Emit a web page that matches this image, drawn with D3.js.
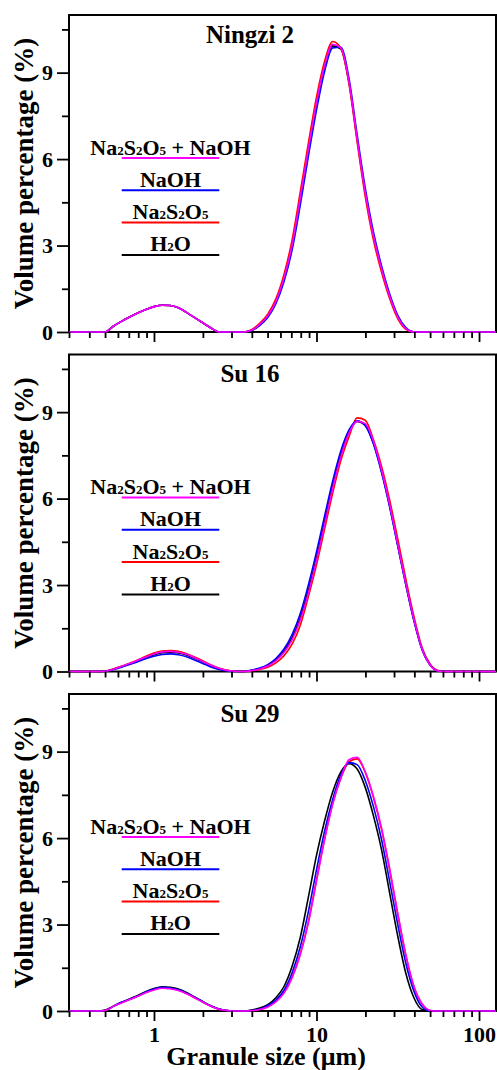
<!DOCTYPE html>
<html>
<head>
<meta charset="utf-8">
<script src="https://cdn.jsdelivr.net/npm/d3@7"></script>
<style>
body { margin: 0; background: #fff; }
</style>
</head>
<body>
<script>
// granule size classes (um), shared by every curve
var sizes = [0.3, 0.447, 0.501, 0.562, 0.631, 0.708, 0.794, 0.891, 1.0, 1.122,
    1.259, 1.413, 1.585, 1.778, 1.995, 2.239, 2.512, 2.818, 3.162, 3.548,
    3.981, 4.467, 5.012, 5.623, 6.31, 7.079, 7.943, 8.913, 10.0, 11.22,
    12.59, 14.13, 15.85, 17.78, 19.95, 22.39, 25.12, 28.18, 31.62, 35.48,
    39.81, 44.67, 50.12, 56.23, 63.1, 127.2];

var panelTitles = ["Ningzi 2", "Su 16", "Su 29"];
var seriesNames = ["H2O", "Na2S2O5", "NaOH", "Na2S2O5 + NaOH"];
var seriesColors = ["#000000", "#ff0000", "#0000ff", "#ff00ff"];

// volume percentage (%) per size class
var ningziH2O = [0, 0, 0, 0.2, 0.37, 0.52, 0.66, 0.78, 0.88, 0.93, 0.92, 0.84, 0.68, 0.5, 0.32, 0.14, 0, 0, 0, 0,
    0.06, 0.25, 0.55, 1.05, 1.85, 3.0, 4.6, 6.3, 7.9, 9.2, 9.93, 9.82, 8.65, 6.7, 4.85, 3.35, 2.2, 1.25, 0.52, 0.12,
    0, 0, 0, 0, 0, 0];
var ningziNa2S2O5 = [0, 0, 0, 0.2, 0.37, 0.52, 0.66, 0.78, 0.88, 0.93, 0.92, 0.84, 0.68, 0.5, 0.32, 0.14, 0, 0, 0, 0,
    0.08, 0.3, 0.62, 1.15, 2.0, 3.2, 4.85, 6.55, 8.15, 9.4, 10.08, 9.85, 8.6, 6.6, 4.7, 3.2, 2.08, 1.16, 0.46, 0.09,
    0, 0, 0, 0, 0, 0];
var ningziNaOH = [0, 0, 0, 0.2, 0.37, 0.52, 0.66, 0.78, 0.88, 0.93, 0.92, 0.84, 0.68, 0.5, 0.32, 0.14, 0, 0, 0, 0,
    0.05, 0.22, 0.5, 0.98, 1.75, 2.85, 4.4, 6.1, 7.7, 9.05, 9.86, 9.88, 8.8, 6.85, 5.0, 3.48, 2.3, 1.33, 0.58, 0.15,
    0, 0, 0, 0, 0, 0];
var ningziMixed = [0, 0, 0, 0.2, 0.37, 0.52, 0.66, 0.78, 0.88, 0.93, 0.92, 0.84, 0.68, 0.5, 0.32, 0.14, 0, 0, 0, 0,
    0.06, 0.26, 0.56, 1.06, 1.87, 3.02, 4.65, 6.35, 7.95, 9.25, 9.98, 9.86, 8.7, 6.72, 4.85, 3.34, 2.2, 1.25, 0.52, 0.12,
    0, 0, 0, 0, 0, 0];

var su16H2O = [0, 0, 0.01, 0.08, 0.17, 0.27, 0.37, 0.48, 0.58, 0.65, 0.67, 0.64, 0.57, 0.46, 0.34, 0.21, 0.1, 0.03, 0.01, 0,
    0.04, 0.1, 0.21, 0.4, 0.7, 1.17, 1.86, 2.82, 3.95, 5.2, 6.45, 7.52, 8.3, 8.68, 8.55, 7.93, 6.95, 5.75, 4.38, 3.02,
    1.77, 0.76, 0.22, 0.02, 0, 0];
var su16Na2S2O5 = [0, 0, 0.01, 0.09, 0.18, 0.29, 0.4, 0.53, 0.64, 0.71, 0.73, 0.7, 0.62, 0.5, 0.37, 0.23, 0.11, 0.04, 0.01, 0,
    0.02, 0.07, 0.15, 0.3, 0.55, 0.95, 1.6, 2.6, 3.7, 4.95, 6.2, 7.33, 8.15, 8.8, 8.72, 8.05, 7.12, 5.95, 4.6, 3.2,
    1.9, 0.82, 0.25, 0.03, 0, 0];
var su16NaOH = [0, 0, 0.01, 0.07, 0.15, 0.24, 0.34, 0.44, 0.53, 0.59, 0.61, 0.58, 0.51, 0.4, 0.28, 0.16, 0.07, 0.02, 0, 0,
    0.05, 0.12, 0.24, 0.45, 0.78, 1.28, 2.0, 3.0, 4.15, 5.4, 6.62, 7.66, 8.38, 8.7, 8.53, 7.9, 6.91, 5.71, 4.35, 3.0,
    1.75, 0.75, 0.22, 0.02, 0, 0];
var su16Mixed = [0, 0, 0.01, 0.08, 0.18, 0.28, 0.39, 0.5, 0.61, 0.68, 0.7, 0.67, 0.6, 0.48, 0.35, 0.22, 0.11, 0.04, 0.01, 0,
    0.03, 0.09, 0.19, 0.37, 0.66, 1.1, 1.78, 2.72, 3.85, 5.1, 6.36, 7.45, 8.27, 8.68, 8.6, 8.0, 7.0, 5.8, 4.42, 3.05,
    1.8, 0.77, 0.22, 0.02, 0, 0];

var su29H2O = [0, 0, 0.03, 0.17, 0.3, 0.42, 0.54, 0.67, 0.78, 0.84, 0.82, 0.76, 0.64, 0.49, 0.33, 0.18, 0.07, 0.02, 0, 0,
    0.03, 0.1, 0.22, 0.46, 0.85, 1.55, 2.55, 3.95, 5.4, 6.6, 7.61, 8.3, 8.58, 8.4, 7.76, 6.78, 5.6, 4.1, 2.6, 1.3,
    0.45, 0.05, 0, 0, 0, 0];
var su29Na2S2O5 = [0, 0, 0.02, 0.16, 0.29, 0.4, 0.51, 0.64, 0.74, 0.8, 0.78, 0.72, 0.61, 0.46, 0.31, 0.17, 0.06, 0.02, 0, 0,
    0.01, 0.05, 0.15, 0.33, 0.64, 1.18, 1.98, 3.1, 4.55, 5.98, 7.2, 8.08, 8.65, 8.75, 8.28, 7.42, 6.3, 4.9, 3.35, 1.92,
    0.83, 0.24, 0.02, 0, 0, 0];
var su29NaOH = [0, 0, 0.02, 0.16, 0.3, 0.41, 0.52, 0.66, 0.76, 0.82, 0.8, 0.74, 0.62, 0.48, 0.32, 0.17, 0.07, 0.02, 0, 0,
    0.02, 0.07, 0.18, 0.38, 0.72, 1.33, 2.22, 3.45, 4.9, 6.25, 7.35, 8.2, 8.62, 8.55, 8.0, 7.1, 5.95, 4.5, 3.0, 1.65,
    0.68, 0.14, 0, 0, 0, 0];
var su29Mixed = [0, 0, 0.02, 0.16, 0.28, 0.4, 0.51, 0.63, 0.73, 0.79, 0.77, 0.71, 0.6, 0.46, 0.31, 0.17, 0.06, 0.02, 0, 0,
    0.01, 0.05, 0.14, 0.32, 0.62, 1.15, 1.95, 3.05, 4.5, 5.95, 7.2, 8.1, 8.72, 8.8, 8.3, 7.45, 6.35, 4.95, 3.4, 1.95,
    0.85, 0.25, 0.02, 0, 0, 0];

// one list of series per panel, same order as seriesNames
var panelSeries = [
    [ningziH2O, ningziNa2S2O5, ningziNaOH, ningziMixed],
    [su16H2O, su16Na2S2O5, su16NaOH, su16Mixed],
    [su29H2O, su29Na2S2O5, su29NaOH, su29Mixed]
];

// tick values
var yTicks = [0, 3, 6, 9];
var yMinorTicks = [1.5, 4.5, 7.5, 10.5];
var xTicks = [1, 10, 100];
var xMinorTicks = [0.3, 0.4, 0.5, 0.6, 0.7, 0.8, 0.9, 2, 3, 4, 5, 6, 7, 8, 9,
    20, 30, 40, 50, 60, 70, 80, 90];

// layout
var width = 497, height = 1070;
var left = 69, right = 496;
var panelH = 317, panelStep = 339.5, firstTop = 15;
var serif = '"Liberation Serif", "Times New Roman", serif';

var svg = d3.select('body')
    .append('svg')
    .attr('width', width)
    .attr('height', height);

// log x scale shared by all panels
var x = d3.scaleLog()
    .domain([0.3, 127.2])
    .range([left, right]);

// bold serif text
function txt(sel, size) {
    return sel.style('font-family', serif)
        .style('font-weight', 'bold')
        .style('font-size', size + 'px')
        .attr('fill', '#000');
}

// put digits of a formula in small type
function formula(sel, label) {
    label.split(/(\d)/).filter(function(s) { return s.length; }).forEach(function(part) {
        var t = sel.append('tspan').text(part);
        if (/\d/.test(part)) t.style('font-size', '13px');
    });
}

function styleAxis(g) {
    g.select('.domain').remove();
    g.selectAll('.tick line').attr('stroke', '#000').attr('stroke-width', 1.8);
    txt(g.selectAll('.tick text'), 22);
}

panelTitles.forEach(function(title, i) {
    var top = firstTop + i * panelStep,
        bottom = top + panelH;

    var y = d3.scaleLinear()
        .domain([0, 11])
        .range([bottom, top]);

    var g = svg.append('g');

    // frame
    g.append('rect')
        .attr('x', left)
        .attr('y', top)
        .attr('width', right - left)
        .attr('height', panelH)
        .attr('fill', 'none')
        .attr('stroke', '#000')
        .attr('stroke-width', 2);

    // curves
    var line = d3.line()
        .x(function(d) { return x(d[0]); })
        .y(function(d) { return y(d[1]); })
        .curve(d3.curveMonotoneX);

    panelSeries[i].forEach(function(vals, k) {
        g.append('path')
            .datum(sizes.map(function(s, j) { return [s, vals[j]]; }))
            .attr('d', line)
            .attr('fill', 'none')
            .attr('stroke', seriesColors[k])
            .attr('stroke-width', 1.6);
    });

    // x axis ticks (labels only on the last panel)
    g.append('g')
        .attr('transform', 'translate(0,' + bottom + ')')
        .call(d3.axisBottom(x).tickValues(xMinorTicks).tickSize(6).tickFormat(''))
        .call(styleAxis);
    g.append('g')
        .attr('transform', 'translate(0,' + bottom + ')')
        .call(d3.axisBottom(x).tickValues(xTicks).tickSize(10).tickPadding(5)
            .tickFormat(i === 2 ? d3.format('d') : ''))
        .call(styleAxis);

    // y axis ticks
    g.append('g')
        .attr('transform', 'translate(' + left + ',0)')
        .call(d3.axisLeft(y).tickValues(yMinorTicks).tickSize(7).tickFormat(''))
        .call(styleAxis);
    g.append('g')
        .attr('transform', 'translate(' + left + ',0)')
        .call(d3.axisLeft(y).tickValues(yTicks).tickSize(12).tickPadding(4))
        .call(styleAxis);

    // y axis title
    txt(g.append('text'), 27)
        .attr('transform', 'translate(33,' + (top + panelH / 2) + ') rotate(-90)')
        .attr('text-anchor', 'middle')
        .text('Volume percentage (%)');

    // panel title
    txt(g.append('text'), 25)
        .attr('x', 250)
        .attr('y', top + 27.5)
        .attr('text-anchor', 'middle')
        .text(title);

    // legend, mixed treatment on top
    d3.range(seriesNames.length - 1, -1, -1).forEach(function(k, r) {
        var ly = top + 143 + r * 32.3;
        g.append('line')
            .attr('x1', 121.7)
            .attr('x2', 219.3)
            .attr('y1', ly)
            .attr('y2', ly)
            .attr('stroke', seriesColors[k])
            .attr('stroke-width', 2);
        var t = txt(g.append('text'), 22)
            .attr('x', 170.5)
            .attr('y', ly - 3.5)
            .attr('text-anchor', 'middle');
        formula(t, seriesNames[k]);
    });
});

// x axis title
txt(svg.append('text'), 26)
    .attr('x', 266)
    .attr('y', 1065)
    .attr('text-anchor', 'middle')
    .text('Granule size (\u03bcm)');
</script>
</body>
</html>
